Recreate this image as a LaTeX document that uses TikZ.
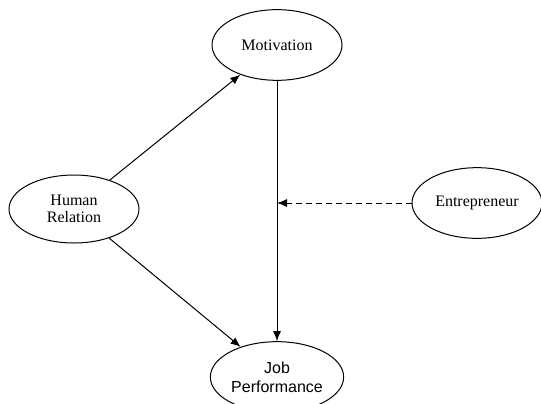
\documentclass[tikz,border=0pt]{standalone}
\usepackage{fontspec}
\setmainfont{Liberation Serif}
\newfontfamily\arialfont{Liberation Sans}
\usepackage{tikz}
\usetikzlibrary{arrows.meta,shapes.geometric}

\tikzset{
    construct/.style={draw,ellipse,line width=0.75pt,minimum width=97.5pt,minimum height=53pt,inner sep=1pt,align=center,font=\fontsize{12}{13}\selectfont},
    path arrow/.style={line width=0.75pt,-{Latex[length=7.5pt,width=6pt]}}
}

\begin{document}
\begin{tikzpicture}[x=0.75pt,y=-0.75pt]
                \useasboundingbox (0,0) rectangle (541,403);
                \node[construct] (motiv) at (277,45) {Motivation};
                \node[construct,minimum height=51pt] (human) at (74,209) {Human\\Relation};
                \node[construct] (entre) at (477,203) {Entrepreneur};
                \node[construct,font=\arialfont\fontsize{12}{14}\selectfont] (job) at (277,377) {Job\\Performance};
                \coordinate (moderate) at (277,203);
                \draw[path arrow] (human) -- (motiv);
                \draw[path arrow] (human) -- (job);
                \draw[path arrow] (motiv) -- (job);
                \draw[path arrow,dashed,dash pattern=on 4.5pt off 3pt] (entre) -- (moderate);
            \end{tikzpicture}
\end{document}
